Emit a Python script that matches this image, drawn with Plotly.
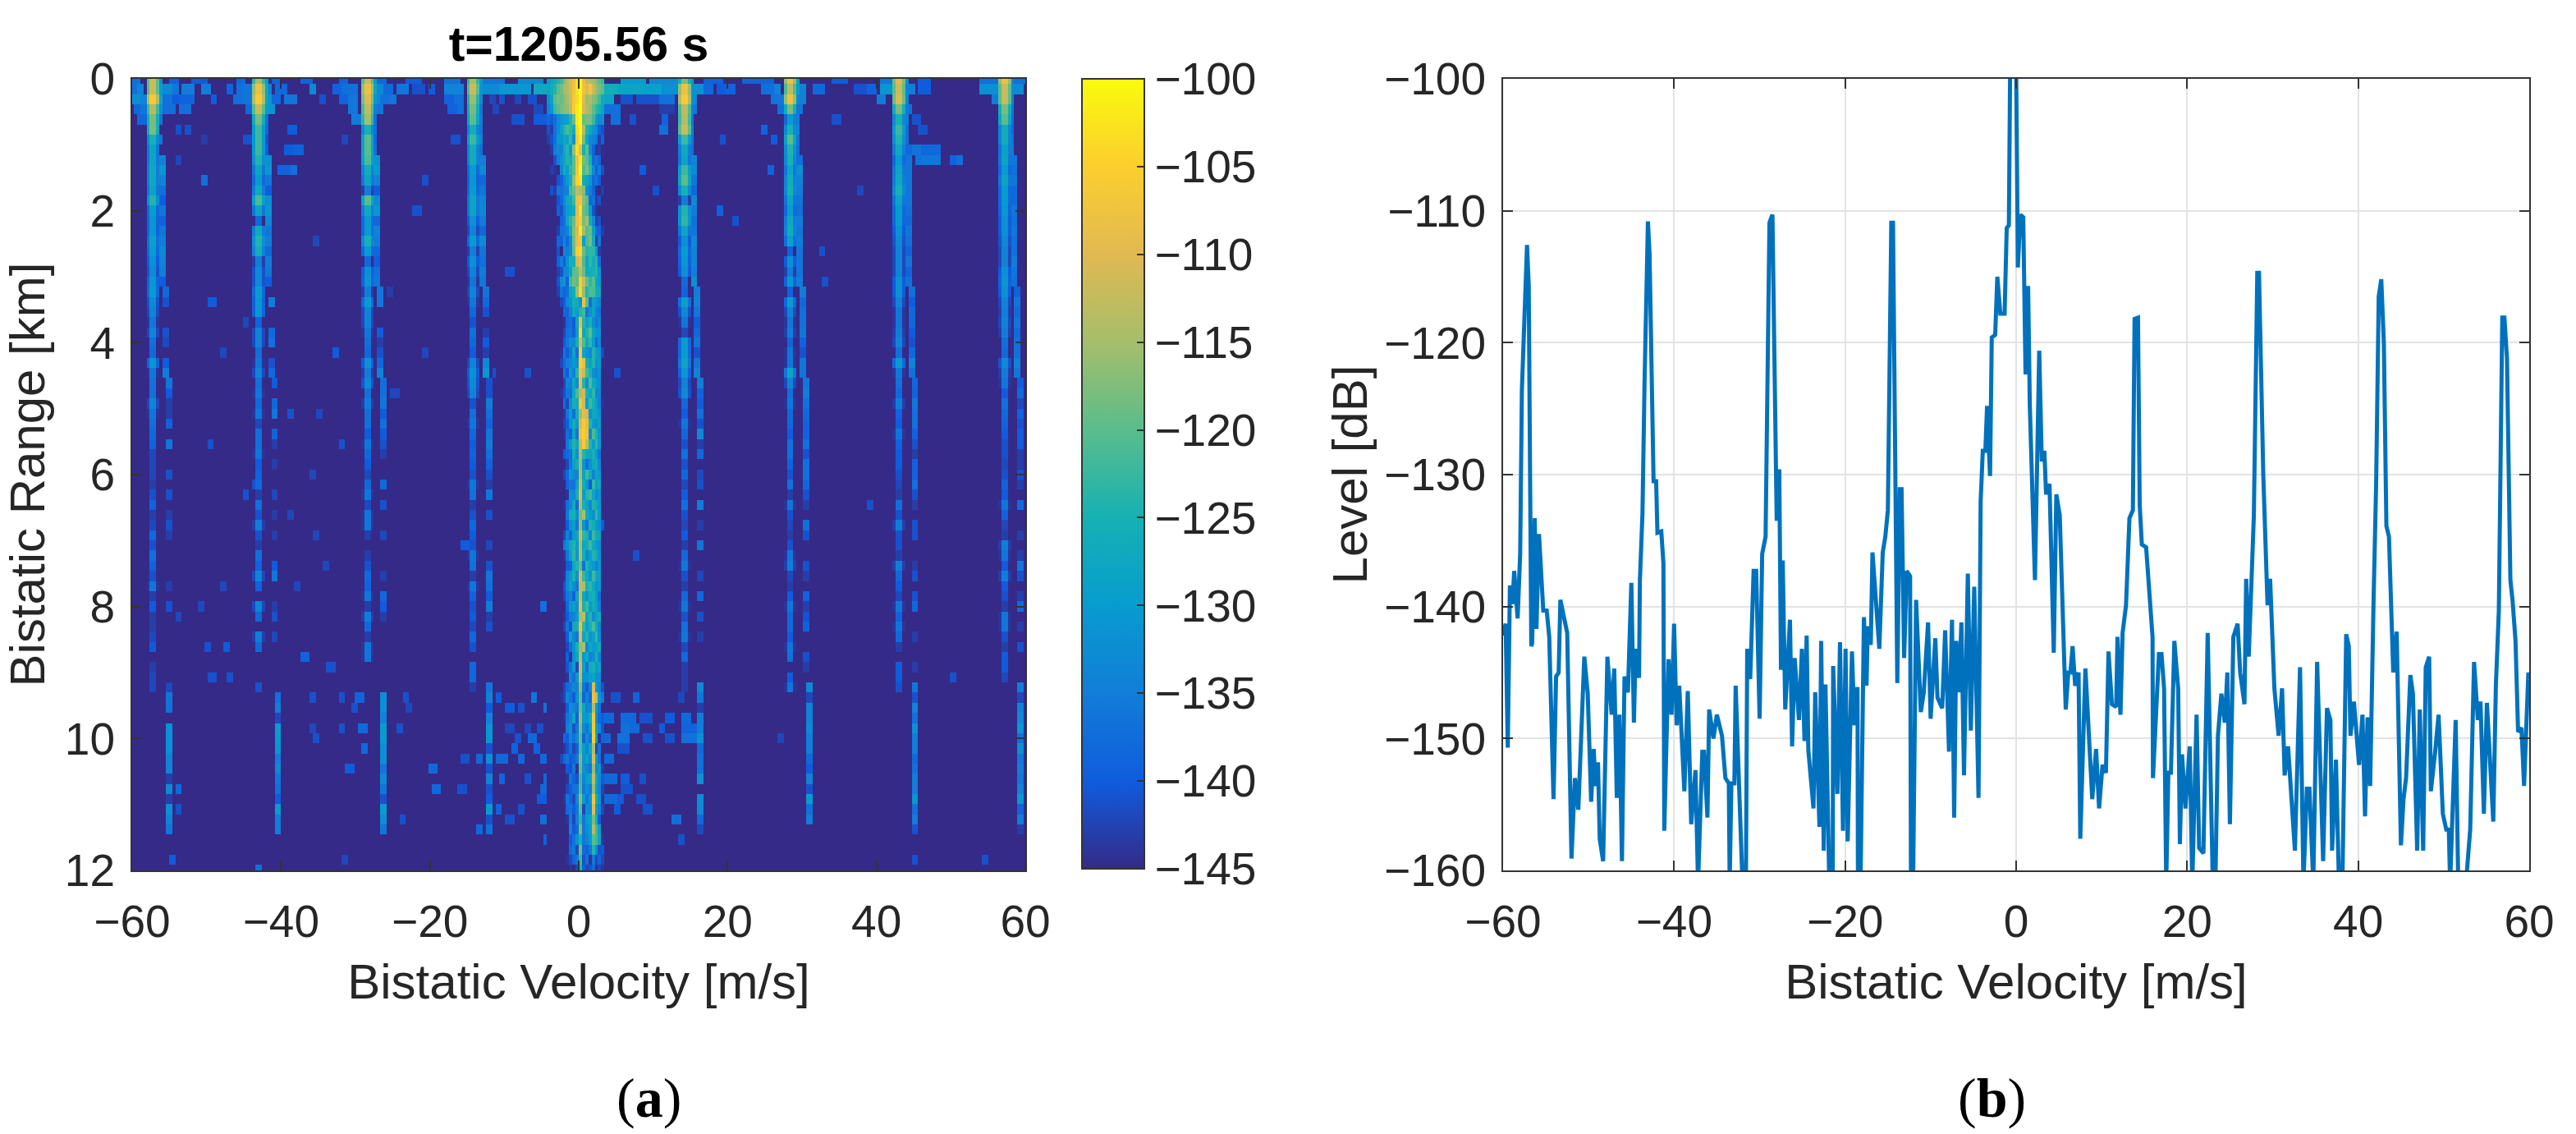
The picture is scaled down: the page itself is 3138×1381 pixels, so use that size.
import numpy as np
import plotly.graph_objects as go
from plotly.subplots import make_subplots

W, H = 3138, 1381
TEXT = "#262626"
AXIS = "#333333"

parula = [[0.0, "rgb(53,42,135)"], [0.111, "rgb(15,92,221)"], [0.222, "rgb(18,125,216)"],
          [0.333, "rgb(7,156,207)"], [0.444, "rgb(21,177,180)"], [0.556, "rgb(89,189,140)"],
          [0.667, "rgb(165,190,107)"], [0.778, "rgb(225,185,82)"], [0.889, "rgb(252,206,46)"],
          [1.0, "rgb(249,251,14)"]]

# right panel: cut through the map, read vertex by vertex
line_v = [-60.0, -59.7, -59.45, -59.2, -58.9, -58.7, -58.3, -58.0, -57.8, -57.6, -57.2, -57.0, -56.7, -56.6, -56.3,
          -56.1, -55.8, -55.3, -54.9, -54.6, -54.1, -53.8, -53.5, -53.3, -52.5, -52.0, -51.6, -51.2, -50.5, -50.1,
          -49.7, -49.4, -49.2, -48.9, -48.7, -48.3, -47.8, -47.3, -47.0, -46.7, -46.4, -46.1, -45.8, -45.4, -45.0,
          -44.7, -44.5, -44.1, -44.0, -43.7, -43.45, -43.06, -42.87, -42.4, -42.1, -41.95, -41.5, -41.25, -41.15,
          -40.65, -40.3, -40.0, -39.7, -39.4, -38.8, -38.4, -38.0, -37.5, -37.2, -36.7, -36.5, -36.1, -35.9, -35.4,
          -35.0, -34.4, -34.0, -33.6, -33.5, -33.3, -32.95, -32.8, -32.4, -32.0, -31.6, -31.45, -31.1, -30.7, -30.4,
          -30.0, -29.7, -29.3, -28.85, -28.5, -28.0, -27.7, -27.5, -27.3, -27.0, -26.45, -26.2, -25.9, -25.4, -25.05,
          -24.75, -24.5, -24.3, -23.7, -23.5, -23.0, -22.8, -22.5, -22.3, -21.85, -21.45, -21.4, -20.9, -20.6, -20.25,
          -19.95, -19.7, -19.2, -18.9, -18.55, -18.5, -18.2, -17.8, -17.5, -17.35, -17.0, -16.8, -16.0, -15.6, -15.3,
          -15.0, -14.6, -14.4, -13.9, -13.6, -13.4, -13.1, -12.8, -12.4, -12.3, -12.05, -11.7, -11.15, -10.8, -10.3,
          -10.0, -9.45, -9.2, -8.65, -8.3, -7.85, -7.5, -7.25, -7.0, -6.7, -6.4, -6.1, -5.65, -5.3, -4.9, -4.4, -4.15,
          -3.9, -3.6, -3.4, -3.05, -2.85, -2.45, -2.2, -1.85, -1.35, -1.1, -0.85, -0.7, -0.4, 0.0, 0.2, 0.5, 0.83, 1.1,
          1.4, 1.6, 2.2, 2.7, 3.0, 3.3, 3.5, 3.9, 4.4, 4.7, 5.1, 5.8, 6.1, 6.35, 6.6, 6.9, 7.3, 7.5, 8.1, 8.9, 9.35,
          9.7, 10.1, 10.5, 10.8, 11.2, 11.7, 11.85, 12.2, 12.45, 12.85, 13.25, 13.65, 13.85, 14.25, 14.45, 14.7, 15.2,
          15.95, 16.0, 16.7, 17.0, 17.3, 17.55, 17.8, 18.1, 18.5, 18.95, 19.15, 19.4, 19.8, 20.3, 20.6, 21.1, 21.4,
          21.9, 22.4, 23.0, 23.3, 23.6, 24.0, 24.4, 24.7, 25.0, 25.4, 25.9, 26.2, 26.7, 26.9, 27.2, 27.8, 28.2, 28.4,
          28.9, 29.4, 29.7, 30.2, 30.7, 31.1, 31.4, 31.8, 32.6, 33.2, 33.6, 34.0, 34.3, 34.75, 35.2, 35.9, 36.35,
          36.75, 36.95, 37.4, 37.75, 38.15, 38.6, 38.9, 39.1, 39.5, 40.1, 40.5, 40.8, 41.1, 41.4, 41.8, 42.1, 42.4,
          42.7, 43.0, 43.3, 43.6, 44.1, 44.5, 45.0, 45.3, 45.6, 46.1, 46.4, 46.9, 47.2, 47.6, 47.9, 48.3, 48.5, 49.0,
          49.4, 49.9, 50.3, 50.6, 50.75, 51.4, 51.7, 52.6, 53.1, 53.55, 54.0, 54.3, 54.7, 55.05, 55.8, 56.1, 56.45,
          56.85, 57.1, 57.4, 57.8, 58.05, 58.4, 58.7, 59.1, 59.4, 59.9, 60.0]
line_db = [-142.2, -141.3, -150.7, -138.4, -139.8, -137.3, -140.9, -136.0, -123.6, -119.6, -112.6, -115.7, -143.0,
           -142.8, -133.3, -141.7, -134.5, -140.3, -140.3, -142.3, -154.6, -145.3, -145.0, -139.5, -142.0, -159.1,
           -153.0, -155.4, -143.8, -146.6, -154.8, -150.8, -153.6, -151.8, -157.6, -159.3, -143.8, -148.2, -144.7,
           -154.5, -148.2, -159.3, -145.3, -146.5, -138.2, -148.8, -143.2, -145.4, -138.0, -133.0, -122.8, -110.8,
           -113.3, -130.5, -130.5, -134.4, -134.3, -136.7, -157.0, -144.0, -148.2, -141.3, -149.0, -146.0, -154.0,
           -146.4, -156.5, -152.4, -161.0, -151.0, -151.0, -156.0, -147.8, -150.0, -148.2, -149.8, -153.0, -153.4,
           -161.0, -153.4, -153.4, -146.0, -153.6, -161.0, -161.0, -143.2, -145.5, -137.3, -137.3, -148.5, -136.0,
           -134.7, -110.9, -110.3, -133.5, -129.6, -144.8, -136.5, -147.8, -141.0, -150.6, -143.9, -148.6, -143.2,
           -150.2, -142.2, -150.9, -155.3, -146.5, -156.7, -142.6, -158.5, -145.9, -161.0, -161.0, -144.5, -154.2,
           -142.7, -157.0, -143.2, -157.8, -143.4, -149.0, -146.1, -161.0, -161.0, -140.8, -146.0, -141.5, -142.9,
           -135.9, -143.2, -135.9, -134.7, -132.7, -110.9, -110.9, -145.8, -131.1, -131.1, -143.9, -137.3, -137.7,
           -161.0, -161.0, -139.5, -148.0, -146.5, -141.2, -148.5, -142.4, -146.9, -147.7, -141.8, -151.0, -141.0,
           -156.0, -142.6, -146.5, -141.2, -152.8, -137.5, -149.4, -138.5, -154.5, -132.0, -128.2, -128.2, -124.8,
           -130.1, -119.6, -119.4, -115.0, -117.8, -117.8, -111.3, -111.1, -99.0, -98.0, -99.0, -114.3, -110.3, -110.5,
           -122.4, -115.7, -124.8, -138.0, -120.6, -129.0, -128.2, -131.5, -130.7, -143.5, -131.5, -133.1, -147.8,
           -145.0, -145.0, -143.0, -146.0, -145.0, -157.6, -144.7, -154.6, -150.8, -155.3, -152.0, -152.6, -143.4,
           -147.4, -147.6, -142.3, -148.2, -142.0, -139.9, -133.3, -132.7, -118.2, -118.1, -132.3, -135.3, -135.5,
           -142.3, -153.0, -143.6, -143.6, -146.2, -161.0, -152.6, -152.6, -142.6, -146.2, -158.0, -151.2, -155.3,
           -150.6, -161.0, -148.2, -158.3, -158.7, -142.0, -161.0, -161.0, -149.8, -146.6, -148.8, -145.0, -156.5,
           -142.3, -141.3, -145.0, -147.4, -137.9, -143.8, -133.1, -114.7, -114.7, -130.0, -139.9, -137.9, -146.2,
           -149.8, -146.2, -152.8, -150.6, -158.5, -144.6, -161.0, -153.8, -153.8, -161.0, -144.2, -159.3, -147.7,
           -148.6, -158.5, -151.6, -161.0, -161.0, -142.1, -143.0, -149.8, -147.2, -152.0, -148.2, -155.9, -148.4,
           -153.6, -139.5, -130.7, -116.5, -115.2, -120.0, -133.9, -134.7, -145.0, -141.9, -158.1, -154.6, -153.0,
           -145.2, -146.6, -158.5, -147.8, -158.5, -144.6, -143.8, -154.0, -151.0, -148.2, -155.7, -156.9, -156.9,
           -161.0, -148.6, -161.0, -161.0, -156.9, -144.2, -148.6, -147.2, -155.7, -147.3, -156.3, -146.0, -140.3,
           -118.1, -118.1, -121.2, -138.0, -139.5, -142.6, -149.5, -149.2, -153.6, -145.0, -145.5]

# left panel: map grid, background floor and colour limits
n_rows = 79
n_cols = 280
floor_db = -145
range_km = np.linspace(0, 12, n_rows)
velocity = np.linspace(-60, 60, n_cols)

# repeating lines in the map, strength by range row (rows 0-60)
core_m57 = [-112, -112, -106, -114, -118, -118, -125, -128, -128, -127, -127, -128, -124, -130, -131, -131, -129, -130,
            -132, -133, -131, -130, -133, -134, -136, -134, -137, -138, -131, -136, -137, -137, -134, -136, -137, -138,
            -139, -142, -142, -142, -143, -141, -139, -143, -142, -138, -141, -137, -139, -141, -136, -143, -140, -143,
            -143, -142, -140, -145, -143, -142, -142]
core_m43 = [-115, -108, -106, -112, -118, -122, -122, -122, -124, -128, -130, -127, -121, -128, -138, -127, -124, -126,
            -135, -133, -133, -130, -131, -131, -139, -134, -134, -137, -136, -134, -137, -136, -138, -136, -142, -137,
            -137, -136, -140, -139, -138, -143, -137, -141, -135, -141, -143, -137, -139, -134, -139, -145, -134, -138,
            -145, -135, -138, -145, -145, -145, -141]
core_m29 = [-112, -108, -110, -113, -115, -125, -120, -120, -121, -126, -128, -135, -120, -127, -130, -130, -125, -130,
            -138, -132, -131, -135, -130, -134, -134, -136, -137, -138, -132, -135, -133, -137, -135, -137, -137, -140,
            -136, -138, -140, -142, -138, -136, -142, -136, -136, -143, -145, -143, -141, -138, -139, -136, -143, -135,
            -138, -143, -136, -136, -145, -145, -145]
core_m14 = [-115, -112, -116, -118, -120, -126, -122, -126, -126, -130, -131, -130, -128, -128, -132, -134, -130, -135,
            -132, -134, -136, -134, -136, -138, -141, -137, -138, -140, -134, -132, -133, -134, -141, -137, -136, -138,
            -140, -139, -140, -141, -136, -137, -143, -141, -138, -140, -141, -136, -137, -143, -136, -139, -141, -140,
            -142, -138, -141, -145, -138, -138, -143]
core_p14 = [-118, -108, -106, -113, -114, -112, -122, -127, -128, -122, -120, -125, -135, -124, -123, -128, -132, -130,
            -131, -132, -138, -139, -129, -133, -136, -142, -130, -130, -128, -131, -134, -133, -138, -140, -136, -138,
            -141, -137, -141, -138, -142, -140, -137, -141, -142, -140, -143, -138, -136, -141, -143, -138, -136, -141,
            -137, -136, -142, -138, -143, -143, -143]
core_p28 = [-108, -113, -108, -118, -130, -125, -120, -124, -125, -128, -126, -125, -128, -130, -127, -126, -129, -139,
            -132, -135, -131, -139, -130, -134, -136, -135, -139, -136, -136, -128, -134, -137, -136, -138, -138, -140,
            -137, -137, -139, -141, -137, -143, -136, -141, -142, -143, -141, -136, -135, -142, -143, -140, -136, -138,
            -138, -140, -136, -137, -145, -140, -136]
core_p43 = [-110, -112, -111, -118, -125, -122, -124, -127, -130, -128, -127, -125, -128, -130, -130, -132, -133, -134,
            -134, -134, -132, -132, -134, -136, -136, -135, -134, -137, -130, -136, -137, -138, -135, -139, -140, -136,
            -139, -140, -140, -141, -142, -143, -137, -141, -135, -141, -141, -143, -135, -138, -140, -142, -136, -139,
            -136, -138, -143, -145, -140, -140, -141]
core_p57 = [-108, -112, -112, -118, -120, -126, -126, -129, -128, -130, -128, -130, -130, -131, -132, -132, -133, -134,
            -134, -132, -131, -132, -134, -135, -134, -135, -137, -138, -133, -135, -136, -140, -137, -138, -139, -140,
            -141, -141, -142, -141, -139, -140, -136, -139, -142, -143, -135, -136, -140, -135, -140, -141, -143, -136,
            -136, -141, -143, -140, -140, -142, -145]

# weaker companion line just right of each repeat (rows 0-59)
side_cols = [2, 2, 2, 2, 2, 2, 2, 2, 3, 3, 3, 3, 3, 3, 3, 3, 3, 3, 3, 3, 3, 4, 4, 4, 4, 4, 4, 4, 4, 4, 5, 5, 5, 5, 5, 5,
             5, 5, 5, 5, 5, 5, 5, 5, 5, 5, 5, 5, 5, 5, 5, 5, 5, 5, 5, 5, 5, 5, 5, 5]
side_m57 = [-132, -130, -128, -132, -136, -145, -136, -145, -134, -131, -134, -137, -140, -136, -139, -136, -135, -133,
            -134, -135, -140, -138, -141, -145, -145, -141, -142, -145, -140, -135, -136, -140, -143, -143, -139, -145,
            -136, -145, -145, -141, -145, -141, -145, -143, -141, -143, -145, -145, -145, -145, -143, -145, -141, -145,
            -145, -145, -145, -145, -145, -145]
side_m43 = [-130, -128, -128, -130, -137, -138, -141, -140, -132, -131, -136, -140, -132, -131, -133, -136, -135, -138,
            -135, -136, -140, -145, -135, -145, -145, -138, -137, -145, -141, -138, -140, -145, -138, -136, -145, -139,
            -143, -145, -143, -145, -145, -142, -145, -143, -145, -143, -145, -145, -140, -136, -145, -145, -143, -141,
            -145, -145, -145, -145, -145, -145]
side_m29 = [-130, -128, -131, -135, -137, -137, -138, -137, -132, -130, -134, -140, -133, -131, -138, -134, -135, -138,
            -140, -137, -136, -136, -136, -145, -145, -140, -143, -141, -138, -134, -137, -137, -136, -140, -137, -140,
            -141, -143, -145, -145, -138, -145, -141, -145, -145, -142, -145, -145, -145, -143, -145, -138, -140, -143,
            -145, -145, -145, -145, -145, -145]
side_m14 = [-130, -131, -133, -136, -135, -136, -134, -137, -135, -133, -138, -136, -134, -133, -135, -138, -133, -136,
            -137, -135, -136, -136, -138, -141, -145, -143, -140, -143, -133, -131, -141, -141, -135, -137, -139, -136,
            -135, -137, -139, -141, -143, -136, -145, -141, -145, -145, -142, -145, -141, -136, -137, -140, -135, -143,
            -141, -145, -145, -145, -145, -145]
side_p14 = [-130, -132, -132, -135, -136, -135, -136, -137, -134, -133, -136, -138, -133, -135, -137, -136, -133, -134,
            -134, -135, -132, -135, -134, -136, -140, -138, -136, -141, -136, -134, -135, -139, -140, -137, -141, -133,
            -143, -138, -145, -142, -141, -145, -135, -145, -143, -145, -136, -145, -145, -142, -145, -138, -145, -141,
            -145, -143, -145, -145, -145, -145]
side_p28 = [-128, -130, -133, -136, -135, -134, -136, -137, -137, -132, -134, -135, -136, -137, -135, -136, -135, -136,
            -136, -136, -135, -135, -138, -137, -137, -136, -139, -141, -136, -136, -136, -135, -137, -138, -139, -139,
            -137, -141, -137, -137, -138, -141, -143, -145, -137, -141, -145, -145, -141, -143, -145, -139, -143, -141,
            -139, -145, -145, -141, -143, -145]
side_p43 = [-132, -134, -134, -136, -135, -137, -137, -138, -136, -136, -136, -136, -136, -137, -138, -136, -137, -139,
            -136, -139, -137, -137, -140, -138, -138, -140, -141, -138, -134, -137, -138, -139, -136, -137, -137, -139,
            -141, -143, -139, -139, -137, -141, -143, -145, -141, -141, -145, -145, -143, -141, -145, -141, -138, -145,
            -145, -143, -145, -145, -143, -145]
side_p57 = [-134, -134, -134, -136, -137, -138, -136, -135, -136, -137, -136, -138, -138, -136, -137, -136, -137, -137,
            -135, -136, -137, -139, -136, -138, -136, -138, -137, -137, -134, -136, -140, -138, -142, -139, -141, -140,
            -140, -143, -143, -141, -143, -145, -138, -145, -145, -143, -145, -143, -136, -141, -145, -143, -138, -145,
            -143, -145, -141, -145, -145, -145]

# far-range copies, shifted by about 2 m/s (rows 60-74)
far_m55 = [-142, -136, -137, -145, -132, -132, -132, -134, -134, -143, -133, -143, -132, -134, -136]
far_m41 = [-145, -137, -135, -142, -130, -130, -131, -135, -133, -136, -137, -140, -130, -135, -135]
far_m26 = [-145, -132, -132, -134, -130, -130, -132, -132, -136, -133, -136, -141, -130, -132, -136]
far_m12 = [-136, -134, -140, -134, -131, -131, -141, -132, -141, -134, -141, -140, -130, -141, -137]
far_p16 = [-133, -136, -143, -135, -135, -132, -138, -137, -137, -132, -145, -132, -133, -138, -142]
far_p31 = [-133, -142, -134, -134, -133, -135, -135, -138, -140, -134, -141, -130, -137, -135, -145]
far_p45 = [-136, -141, -134, -137, -132, -135, -135, -138, -137, -135, -135, -131, -137, -135, -141]
far_p59 = [-135, -142, -134, -133, -131, -137, -132, -136, -135, -136, -134, -131, -139, -135, -143]

# centre of the map: dB below -100 for the 18 columns around zero velocity, row by row
centre_atten = [
    [30, 28, 26, 24, 22, 18, 14, 10, 8, 3, 0, 9, 13, 14, 15, 17, 20, 22],
    [28, 26, 24, 20, 18, 15, 14, 11, 7, 3, 0, 8, 10, 7, 12, 16, 18, 20],
    [32, 28, 20, 18, 19, 17, 15, 12, 6, 4, 0, 10, 16, 14, 17, 18, 22, 27],
    [34, 31, 22, 20, 18, 17, 16, 13, 5, 2, 0, 11, 14, 16, 20, 23, 25, 28],
    [38, 40, 37, 33, 31, 29, 29, 24, 19, 2, 0, 19, 18, 18, 22, 30, 33, 32],
    [41, 43, 37, 33, 28, 24, 21, 23, 26, 4, 0, 14, 24, 27, 31, 33, 39, 41],
    [43, 41, 37, 30, 30, 27, 28, 23, 32, 6, 1, 18, 28, 33, 34, 36, 43, 39],
    [45, 43, 35, 33, 34, 27, 24, 30, 16, 3, 9, 25, 20, 33, 39, 44, 43, 45],
    [45, 45, 41, 35, 31, 28, 24, 26, 20, 8, 2, 18, 20, 25, 38, 36, 39, 45],
    [45, 43, 44, 45, 33, 26, 29, 23, 20, 7, 0, 21, 18, 23, 33, 39, 35, 41],
    [45, 45, 45, 41, 39, 34, 30, 26, 16, 5, 2, 26, 28, 31, 38, 36, 40, 45],
    [45, 41, 43, 36, 37, 35, 34, 22, 19, 13, 14, 17, 32, 35, 39, 44, 45, 43],
    [45, 45, 45, 41, 38, 33, 28, 27, 22, 9, 7, 17, 20, 38, 37, 43, 41, 45],
    [45, 45, 45, 39, 41, 35, 30, 28, 26, 10, 3, 19, 21, 30, 41, 44, 45, 45],
    [45, 45, 45, 45, 39, 37, 28, 23, 19, 8, 5, 18, 15, 26, 33, 43, 41, 45],
    [45, 45, 45, 43, 37, 36, 34, 26, 17, 11, 2, 15, 20, 19, 29, 38, 39, 43],
    [45, 45, 45, 38, 39, 33, 38, 33, 18, 9, 7, 29, 21, 18, 27, 43, 36, 45],
    [45, 45, 45, 41, 45, 33, 35, 33, 19, 6, 4, 19, 24, 23, 23, 31, 43, 45],
    [45, 45, 45, 39, 35, 39, 32, 25, 26, 12, 9, 21, 28, 23, 26, 24, 37, 45],
    [45, 45, 45, 43, 41, 34, 33, 28, 20, 19, 13, 19, 27, 26, 25, 24, 31, 45],
    [45, 45, 45, 41, 33, 31, 39, 22, 18, 20, 5, 12, 19, 23, 20, 28, 30, 45],
    [45, 45, 45, 43, 36, 39, 37, 28, 26, 16, 4, 16, 24, 21, 21, 26, 27, 45],
    [45, 45, 45, 45, 42, 40, 33, 31, 25, 26, 32, 8, 20, 37, 29, 31, 33, 45],
    [45, 45, 45, 45, 45, 38, 39, 34, 27, 30, 24, 22, 36, 32, 28, 34, 36, 45],
    [45, 45, 45, 45, 45, 44, 38, 37, 40, 28, 9, 24, 29, 25, 32, 36, 33, 45],
    [45, 45, 45, 45, 45, 42, 37, 36, 39, 30, 4, 28, 24, 20, 28, 31, 32, 45],
    [45, 45, 45, 45, 45, 40, 36, 32, 33, 26, 11, 21, 27, 23, 30, 38, 33, 45],
    [45, 45, 45, 45, 44, 36, 40, 36, 28, 37, 6, 28, 31, 33, 24, 29, 31, 42],
    [45, 45, 45, 45, 42, 38, 35, 33, 30, 32, 5, 8, 26, 29, 24, 31, 30, 45],
    [45, 45, 45, 45, 45, 36, 40, 30, 34, 24, 8, 12, 22, 25, 32, 34, 31, 45],
    [45, 45, 45, 45, 45, 42, 34, 35, 28, 33, 9, 24, 32, 21, 27, 30, 32, 45],
    [45, 45, 45, 45, 44, 41, 36, 37, 27, 21, 14, 11, 25, 28, 23, 33, 33, 45],
    [45, 45, 45, 45, 45, 37, 42, 32, 25, 27, 7, 12, 30, 22, 25, 29, 34, 44],
    [45, 45, 45, 45, 45, 44, 36, 30, 37, 26, 16, 9, 12, 32, 27, 28, 31, 45],
    [45, 45, 45, 45, 45, 42, 40, 31, 26, 30, 11, 6, 9, 24, 30, 32, 29, 45],
    [45, 45, 45, 45, 45, 44, 37, 39, 28, 36, 8, 5, 8, 33, 21, 25, 31, 45],
    [45, 45, 45, 45, 45, 45, 36, 30, 24, 28, 13, 6, 13, 24, 29, 23, 30, 45],
    [45, 45, 45, 45, 45, 40, 38, 37, 26, 32, 14, 24, 27, 28, 25, 30, 36, 45],
    [45, 45, 45, 45, 45, 45, 42, 36, 29, 26, 16, 31, 37, 32, 27, 26, 33, 45],
    [45, 45, 45, 45, 45, 42, 38, 30, 33, 34, 15, 28, 22, 26, 34, 28, 30, 45],
    [45, 45, 45, 45, 45, 45, 39, 36, 37, 29, 12, 26, 30, 40, 23, 29, 27, 45],
    [45, 45, 45, 45, 45, 45, 44, 32, 33, 26, 10, 30, 24, 22, 28, 33, 31, 45],
    [45, 45, 45, 45, 45, 44, 37, 34, 27, 38, 14, 25, 28, 33, 24, 26, 30, 45],
    [45, 45, 45, 45, 45, 45, 36, 26, 25, 32, 18, 14, 27, 30, 32, 23, 29, 45],
    [45, 45, 45, 45, 45, 45, 40, 32, 29, 36, 16, 31, 36, 24, 26, 30, 32, 40],
    [45, 45, 45, 45, 45, 42, 34, 38, 30, 28, 12, 23, 25, 34, 22, 27, 28, 45],
    [45, 45, 45, 45, 45, 36, 32, 27, 24, 30, 15, 28, 26, 22, 27, 30, 32, 45],
    [45, 45, 45, 45, 45, 44, 36, 29, 23, 31, 14, 25, 33, 29, 24, 26, 31, 45],
    [45, 45, 45, 45, 45, 45, 40, 39, 27, 24, 20, 37, 24, 28, 30, 34, 30, 45],
    [45, 45, 45, 45, 45, 44, 34, 30, 25, 32, 11, 23, 27, 31, 22, 28, 29, 45],
    [45, 45, 45, 45, 45, 41, 33, 28, 32, 36, 13, 14, 25, 23, 27, 32, 30, 45],
    [45, 45, 45, 45, 45, 42, 36, 34, 39, 28, 12, 27, 31, 26, 25, 30, 37, 45],
    [45, 45, 45, 45, 45, 45, 38, 31, 29, 32, 9, 25, 22, 30, 26, 29, 34, 45],
    [45, 45, 45, 45, 45, 44, 40, 35, 34, 30, 15, 13, 28, 24, 32, 28, 26, 45],
    [45, 45, 45, 45, 45, 42, 36, 41, 27, 26, 8, 23, 30, 25, 21, 27, 33, 45],
    [45, 45, 45, 45, 45, 45, 40, 28, 33, 36, 10, 28, 24, 31, 29, 23, 32, 45],
    [45, 45, 45, 45, 45, 45, 42, 37, 31, 25, 16, 14, 33, 27, 30, 29, 26, 45],
    [45, 45, 45, 45, 45, 45, 39, 44, 32, 28, 14, 30, 27, 34, 32, 25, 33, 45],
    [45, 45, 45, 45, 45, 45, 41, 36, 30, 42, 11, 29, 36, 26, 25, 30, 28, 45],
    [45, 45, 45, 45, 45, 45, 44, 33, 37, 31, 13, 32, 31, 29, 28, 32, 32, 45],
    [45, 45, 45, 45, 45, 42, 38, 36, 33, 34, 17, 36, 40, 34, 10, 30, 34, 41],
    [45, 45, 45, 45, 44, 42, 34, 36, 40, 32, 20, 39, 34, 38, 8, 13, 31, 36],
    [45, 45, 45, 45, 45, 45, 40, 32, 34, 36, 19, 28, 34, 33, 14, 30, 36, 45],
    [45, 45, 45, 45, 45, 44, 36, 34, 28, 39, 16, 30, 31, 27, 7, 32, 38, 40],
    [45, 45, 45, 45, 45, 45, 35, 32, 41, 36, 18, 33, 36, 30, 6, 29, 33, 41],
    [45, 45, 45, 45, 45, 38, 40, 34, 37, 33, 20, 39, 32, 36, 5, 28, 44, 39],
    [45, 45, 45, 45, 45, 44, 41, 37, 42, 39, 21, 30, 34, 28, 14, 42, 36, 45],
    [45, 45, 45, 45, 42, 38, 36, 40, 39, 36, 18, 31, 29, 32, 10, 30, 37, 45],
    [45, 45, 45, 45, 45, 45, 40, 41, 36, 44, 19, 32, 34, 36, 16, 33, 31, 43],
    [45, 45, 45, 45, 45, 45, 44, 36, 39, 41, 22, 34, 30, 28, 12, 27, 33, 40],
    [45, 45, 45, 45, 45, 45, 42, 40, 37, 36, 21, 36, 32, 35, 16, 30, 34, 42],
    [45, 45, 45, 45, 45, 44, 36, 39, 42, 34, 17, 30, 36, 31, 7, 25, 31, 44],
    [45, 45, 45, 45, 45, 45, 38, 36, 40, 36, 20, 42, 32, 33, 9, 30, 34, 42],
    [45, 45, 45, 45, 45, 45, 44, 36, 42, 34, 23, 36, 30, 28, 18, 26, 40, 45],
    [45, 45, 45, 45, 45, 45, 45, 34, 40, 38, 18, 36, 32, 30, 14, 22, 29, 45],
    [45, 45, 45, 45, 45, 45, 45, 40, 37, 32, 25, 36, 34, 30, 20, 22, 28, 44],
    [45, 45, 45, 45, 45, 45, 45, 38, 36, 42, 19, 38, 39, 36, 24, 32, 41, 40],
    [45, 45, 45, 45, 45, 45, 44, 42, 39, 36, 22, 41, 37, 44, 36, 42, 39, 42],
    [45, 45, 45, 45, 45, 45, 45, 44, 45, 42, 24, 40, 42, 41, 38, 44, 42, 44],
]

# runs of clutter elsewhere in the map: row, from velocity, to velocity, level
clutter = [
    (0, -60, -59, -137), (0, -55, -54, -139), (0, -52, -50, -140), (0, -46, -45, -138), (0, -41, -40, -139),
    (0, -37, -36, -139), (0, -32, -31, -139), (0, -27, -26, -138), (0, -23, -21.5, -140), (0, -18, -16, -137),
    (0, -13, -10, -136), (0, -8, -5, -133), (0, 6, 9, -130), (0, 9.5, 13, -133), (0, 17, 19, -139), (0, 22, 26, -139),
    (0, 34, 36, -140), (0, 40.5, 42, -136), (0, 46, 47, -140), (0, 54, 56, -137), (0, 58, 60, -137),
    (1, -60, -59.4, -137), (1, -59, -58.6, -134), (1, -56, -55, -133), (1, -54.6, -53.8, -136), (1, -53.3, -52, -135),
    (1, -50.6, -49.8, -135), (1, -47.2, -46.5, -139), (1, -46, -45.4, -137), (1, -45, -43.9, -136),
    (1, -42.3, -41.4, -134), (1, -40.6, -39.5, -138), (1, -36, -35.6, -133), (1, -32.8, -32, -139),
    (1, -31.5, -30, -137), (1, -28, -26.5, -133), (1, -26, -25, -138), (1, -24.5, -23, -136), (1, -22, -21, -141),
    (1, -20, -19.5, -140), (1, -18, -15.5, -134), (1, -14, -11, -133), (1, -10.6, -6.5, -131), (1, -6, -4.3, -127),
    (1, 3.4, 5.4, -126), (1, 5.4, 8.5, -128), (1, 9, 11.3, -129), (1, 11.6, 13.5, -132), (1, 15, 16.4, -132),
    (1, 17, 18, -138), (1, 18.5, 19.4, -140), (1, 20.2, 21, -139), (1, 24.7, 26, -137), (1, 26.4, 27, -134),
    (1, 29, 30.5, -134), (1, 31.5, 33, -138), (1, 37.3, 38.4, -141), (1, 39, 40, -139), (1, 40.5, 42, -131),
    (1, 43.2, 45, -135), (1, 46, 47, -140), (1, 53.8, 56.6, -132), (1, 57.8, 59.7, -133),
    (2, -60, -59.2, -132), (2, -58.9, -58.2, -134), (2, -56, -55, -137), (2, -54.5, -54, -140), (2, -53.4, -52, -139),
    (2, -49.4, -48.8, -140), (2, -46.4, -45.5, -137), (2, -45, -44.3, -136), (2, -42.3, -41.5, -131),
    (2, -41, -40, -138), (2, -39.5, -38, -136), (2, -34.5, -34, -141), (2, -32, -31.2, -139), (2, -30.8, -29.7, -136),
    (2, -28, -27, -133), (2, -26.6, -25.6, -137), (2, -25, -24.6, -136), (2, -17.9, -17, -139), (2, -16.5, -15.5, -137),
    (2, -13.9, -13, -141), (2, -12, -11.5, -142), (2, -10.5, -10, -141), (2, -8.4, -7.8, -142), (2, -6.6, -5.8, -141),
    (2, 3.4, 4.6, -128), (2, 6, 7, -141), (2, 8, 10.5, -141), (2, 10.9, 12.8, -137), (2, 14.8, 15.6, -133),
    (2, 26, 28, -136), (2, 29, 30.2, -134), (2, 40.4, 41.2, -135), (2, 43, 44.2, -136), (2, 55.8, 57, -135),
    (3, -59.6, -59, -138), (3, -58.6, -57.7, -136), (3, -56, -54.5, -137), (3, -53.5, -52.3, -137),
    (3, -44.7, -43.5, -138), (3, -42.7, -41.1, -131), (3, -30.9, -29.7, -136), (3, -27.8, -26.5, -136),
    (3, -17.5, -16.5, -139), (3, -16, -15.5, -137), (3, -13.9, -13, -142), (3, -11.6, -11, -142), (3, -6, -5, -142),
    (3, 3.4, 5.5, -137), (3, 10.9, 12.8, -143), (3, 14.4, 15.6, -136), (3, 27, 28, -137), (3, 29, 30, -136),
    (3, 43, 44.5, -137),
    (4, -59.2, -58.2, -138), (4, -30.5, -28.9, -135), (4, -8.8, -7.5, -141), (4, -6, -4.5, -140), (4, 4.6, 5.4, -137),
    (4, 7.3, 7.7, -141), (4, 11.3, 12, -139), (4, 34, 35, -141), (4, 45, 46, -141),
    (5, -53.9, -53.5, -141), (5, -52.6, -52.2, -141), (5, -39, -38.7, -141), (5, -38.8, -38.2, -140), (5, 24.7, 25.3, -139),
    (5, 11, 11.7, -137), (5, 46, 46.5, -141), (6, -50.4, -50, -143), (6, -45, -44.3, -141), (6, -31.5, -31, -142),
    (6, -16.8, -16, -141), (6, 19, 19.4, -141), (6, 26, 26.5, -140), (7, -39.2, -38.6, -140), (7, -38.2, -37.3, -139),
    (7, 43.6, 44.5, -138), (7, 45, 46, -136), (7, 46.4, 48.3, -138), (8, 45.2, 46, -137), (8, 46.3, 48.3, -136),
    (8, 49.9, 50.4, -139), (8, 50.8, 51.5, -137), (8, -54, -53.5, -142), (9, -40, -38.9, -139),
    (9, -38.5, -38, -137), (9, 25.5, 26, -139), (9, 8.2, 8.8, -140), (10, -50.5, -49.9, -137), (10, -21, -20.6, -141),
    (11, 10, 10.6, -141), (11, 37.6, 38, -142), (13, -22, -21.4, -141), (13, 18.5, 19, -139), (14, 21, 21.4, -141),
    (16, -35.4, -35, -142), (17, 32.5, 33, -141), (19, -9.6, -9, -141), (20, 33, 33.3, -141), (21, -25.5, -25, -143),
    (22, -49.5, -49, -140), (24, -45, -44.5, -142), (27, -48, -47.5, -142), (27, -32.8, -32.3, -140), (27, -20.8, -20.3, -142),
    (29, -7, -6.5, -141), (29, -11.6, -11.2, -141), (29, 5, 5.5, -141), (31, -25, -24.5, -142), (33, -39, -38.5, -141),
    (33, -35, -34.5, -142), (36, -49.8, -49.4, -141), (36, -32, -31.5, -141), (39, -36, -35.5, -142), (40, -43.5, -43, -141),
    (41, -45, -44.6, -141), (42, 39, 39.4, -141), (43, -39, -38.5, -142), (45, -35.4, -35, -142), (46, -15.5, -15, -140),
    (47, 7.5, 8, -141), (48, -34.3, -33.9, -142), (50, -48, -47.5, -142), (50, -38, -37.5, -142), (52, -5, -4.6, -137),
    (52, -50.8, -50.4, -142), (53, -54, -53.6, -142), (55, -41, -40.6, -142), (56, -50, -49.6, -141), (56, -47.5, -47, -140),
    (57, -37, -36.5, -139), (58, -33.7, -33.1, -141), (59, -49.5, -49, -141), (59, -47, -46.6, -141), (59, 50, 50.6, -141),
    (61, -36, -35.6, -141), (61, -32, -31.5, -141), (61, -29.7, -29.2, -139), (61, -23.5, -22.9, -141), (61, -6.3, -5.7, -136),
    (61, -11, -10.4, -140), (61, 4.5, 5.3, -141), (61, 7.5, 8, -139), (61, 13.5, 14, -142),
    (62, -30.5, -30, -141), (62, -23, -22.5, -142), (62, -9.5, -8.8, -140), (62, -8, -7.5, -141), (62, -4.5, -4.3, -137),
    (63, 8.5, 9.5, -141), (63, 3.5, 4.4, -138), (63, 6, 7.5, -138), (63, 12, 12.5, -140), (63, 14, 15, -138),
    (64, -36, -35.6, -142), (64, -32, -31.6, -141), (64, -29.6, -28.8, -138), (64, -24.5, -24, -141), (64, -9.5, -9, -142),
    (64, -7, -6.5, -142), (64, -5.5, -5, -141), (64, 6, 6.8, -137), (64, 7.2, 8, -138), (64, 11, 11.6, -140), (64, 14, 15.5, -139),
    (65, -35.5, -35, -141), (65, -8.5, -8, -141), (65, -6.6, -6, -138), (65, -3.8, -3.3, -140), (65, 3.4, 4.2, -138),
    (65, 5.4, 6.5, -137), (65, 9, 9.5, -141), (65, 12, 12.6, -141), (65, 14, 15.5, -137), (65, 27, 27.5, -142),
    (66, -29, -28.5, -138), (66, -9, -8.4, -139), (66, -6, -5.5, -139), (66, 5.5, 6.5, -141),
    (67, -15.5, -15, -141), (67, -13.7, -13.2, -138), (67, -11, -9.5, -138), (67, -8, -7.4, -138), (67, -5, -4.3, -138),
    (67, 3.4, 4.5, -138), (68, -31, -30.3, -140), (68, -19.8, -19, -138),
    (69, -7, -6.5, -141), (69, -4.5, -4.3, -138), (69, -10.5, -10, -139), (69, 3.4, 5, -138), (69, 6, 6.8, -140), (69, 8.5, 9, -141),
    (70, -54, -53.4, -138), (70, -19.5, -18.8, -138), (70, -16, -15.4, -141), (70, -4.8, -4.3, -138), (70, 6, 7, -141),
    (71, -5.5, -4.5, -140), (71, 3.4, 4.8, -138), (71, 5.5, 6, -140), (71, 8, 9, -141),
    (72, -8, -7.4, -141), (72, -54, -53.6, -141), (72, -11, -10.4, -139), (72, 5, 5.5, -140), (72, 9, 9.5, -141),
    (73, -24, -23.4, -141), (73, -9.5, -9, -141), (73, -5, -4.5, -137), (73, 12.5, 13.4, -137),
    (74, -13.5, -13, -138), (74, 2.5, 3, -141), (75, -4.5, -4.3, -139), (75, 13.5, 14, -141),
    (77, -54.9, -54.4, -140), (77, -31.8, -31.3, -142), (77, 45, 45.5, -141), (77, 54.5, 55, -141), (78, -43.4, -43, -137),
]

streak_v = [-57.3, -43.1, -28.8, -14.6, 14.0, 28.3, 42.6, 57.0]
streak_core = [core_m57, core_m43, core_m29, core_m14, core_p14, core_p28, core_p43, core_p57]
streak_side = [side_m57, side_m43, side_m29, side_m14, side_p14, side_p28, side_p43, side_p57]
far_v = [-55.2, -40.8, -26.5, -12.2, 16.1, 30.7, 45.0, 59.2]
far_core = [far_m55, far_m41, far_m26, far_m12, far_p16, far_p31, far_p45, far_p59]


def col_of(v):
    return int(np.argmin(np.abs(velocity - v)))


level_map = np.full((n_rows, n_cols), float(floor_db))

for row, v0, v1, level in clutter:
    level_map[row, col_of(v0):col_of(v1) + 1] = level

for v, core, side in zip(streak_v, streak_core, streak_side):
    c = col_of(v)
    for row, level in enumerate(side):
        s = c + side_cols[row]
        level_map[row, s:s + 2] = np.maximum(level_map[row, s:s + 2], level)
    for row, level in enumerate(core):
        # the lines bleed a little into the neighbouring columns
        if level > -140:
            level_map[row, c - 1] = max(level_map[row, c - 1], level - 8)
            level_map[row, c + 2] = max(level_map[row, c + 2], level - 8)
        level_map[row, c:c + 2] = np.maximum(level_map[row, c:c + 2], level)

for v, core in zip(far_v, far_core):
    c = col_of(v)
    for i, level in enumerate(core):
        level_map[60 + i, c:c + 2] = np.maximum(level_map[60 + i, c:c + 2], level)

c0 = col_of(-4.3)
for row, atten in enumerate(centre_atten):
    level_map[row, c0:c0 + 18] = -100 - np.array(atten, dtype=float)

fig = make_subplots(rows=1, cols=2)

fig.add_trace(go.Heatmap(
    x=velocity, y=range_km, z=level_map, zmin=-145, zmax=-100, colorscale=parula, zsmooth=False,
    hoverinfo="skip",
    colorbar=dict(
        x=1318 / W, xanchor="left", xpad=0, y=1 - 96 / H, yanchor="top", yref="paper",
        len=962 / H, lenmode="fraction", ypad=0, thickness=76, thicknessmode="pixels",
        tickvals=[-100, -105, -110, -115, -120, -125, -130, -135, -140, -145],
        ticks="inside", ticklen=10, tickwidth=2, tickcolor=AXIS,
        tickprefix="\u00a0",
        tickfont=dict(family="Liberation Sans", size=55, color=TEXT),
        outlinewidth=2, outlinecolor=AXIS,
    ),
), row=1, col=1)

fig.add_trace(go.Scatter(
    x=line_v, y=line_db, mode="lines", line=dict(color="#0072BD", width=5), showlegend=False,
    hoverinfo="skip",
), row=1, col=2)

axis_font = dict(family="Liberation Sans", size=55, color=TEXT)
title_font = dict(family="Liberation Sans", size=60, color=TEXT)
common = dict(showline=True, linecolor=AXIS, linewidth=2, mirror="ticks", ticks="inside", ticklen=12,
              tickwidth=2, tickcolor=AXIS, tickfont=axis_font, zeroline=False, automargin=False)

x_ticks = [-60, -40, -20, 0, 20, 40, 60]
fig.update_xaxes(common, range=[-60, 60], tickvals=x_ticks, ticklabelstandoff=13,
                 title=dict(text="Bistatic Velocity [m/s]", font=title_font, standoff=22))
fig.update_xaxes(domain=[161 / W, 1249 / W], showgrid=False, row=1, col=1)
fig.update_xaxes(domain=[1831 / W, 3081 / W], showgrid=True, gridcolor="#E3E3E3", gridwidth=2, row=1, col=2)

fig.update_yaxes(common, ticklabelstandoff=8)
fig.update_yaxes(domain=[1 - 1060 / H, 1 - 96 / H], range=[12, 0], tickvals=[0, 2, 4, 6, 8, 10, 12],
                 showgrid=False, title=dict(text="Bistatic Range [km]", font=title_font, standoff=22), row=1, col=1)
fig.update_yaxes(domain=[1 - 1060 / H, 1 - 96 / H], range=[-160, -100],
                 tickvals=[-100, -110, -120, -130, -140, -150, -160], showgrid=True, gridcolor="#E3E3E3",
                 gridwidth=2, title=dict(text="Level [dB]", font=title_font, standoff=1), row=1, col=2)

caption_font = dict(family="Liberation Serif", size=68, color="#000000")
fig.update_layout(
    width=W, height=H, margin=dict(l=0, r=0, t=0, b=0), paper_bgcolor="white", plot_bgcolor="white",
    showlegend=False,
    title=dict(text="<b>t=1205.56 s</b>", x=705 / W, xanchor="center", y=1 - 53 / H, yanchor="middle",
               xref="paper", yref="container",
               font=dict(family="Liberation Sans", size=59, color="#000000")),
    annotations=[
        dict(text="(<b>a</b>)", x=790 / W, y=1 - 1337 / H, xref="paper", yref="paper", showarrow=False,
             xanchor="center", yanchor="middle", font=caption_font),
        dict(text="(<b>b</b>)", x=2426 / W, y=1 - 1337 / H, xref="paper", yref="paper", showarrow=False,
             xanchor="center", yanchor="middle", font=caption_font),
    ],
)

fig.write_html("out.html", config={"displayModeBar": False}, post_script="document.body.style.margin='0';")
